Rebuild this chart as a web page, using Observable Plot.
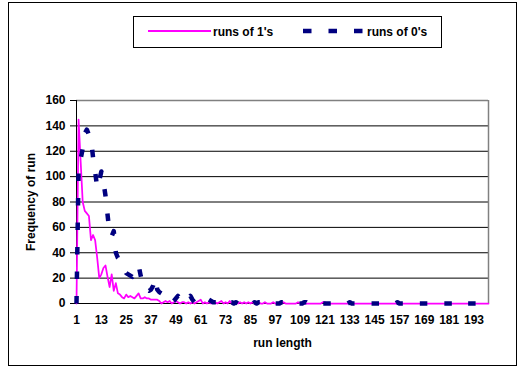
<!DOCTYPE html>
<html>
<head>
<meta charset="utf-8">
<script src="https://cdn.jsdelivr.net/npm/d3@7"></script>
<script src="https://cdn.jsdelivr.net/npm/@observablehq/plot@0.6"></script>
<style>
  html, body { margin: 0; padding: 0; background: white; }
  #chart { width: 518px; height: 367px; }
  #chart svg text { font-weight: bold; font-family: 'Liberation Sans', Arial, sans-serif; }
</style>
</head>
<body>
<div id="chart"></div>
<script>
// Run lengths 1..200 (category axis)
const runLength = d3.range(1, 201);

// Frequency of runs of 1's
const runsOf1 = [
  0,145,112,80,73,71,69,50,54,50,
  36,20,23,28,30,21,13,23,10,16,
  8,7,5,4,7,5,6,5,4,6,
  8,4,4,5,4,4,3,3,3,3,
  2,0,1,2,1,2,0,1,2,1,
  0,1,1,0,1,0,1,0,1,2,
  3,0,1,0,1,0,1,1,0,1,
  2,0,1,0,2,0,0,1,0,1,
  0,1,0,1,0,1,0,0,1,0,
  0,1,0,0,0,1,0,0,0,0,
  1,0,0,0,0,0,0,1,0,0,
  0,0,0,0,0,0,0,0,0,1,
  1,0,0,0,0,0,0,0,0,0,
  0,0,0,0,0,0,0,0,0,0,
  0,0,0,0,0,0,0,0,0,0,
  0,0,0,0,0,0,0,0,0,0,
  0,0,0,0,0,0,0,0,0,0,
  0,0,0,0,0,0,0,0,0,0,
  0,0,0,0,0,0,0,0,0,0,
  0,0,0,0,0,0,0,0,0,0
];

// Frequency of runs of 0's
const runsOf0 = [
  0,105,114,122,134,137,133,130,115,104,
  91,97,104,96,85,70,55,53,57,40,
  36,34,31,28,24,23,22,21,24,27,
  30,22,15,12,11,10,11,14,20,11,
  9,8,8,7,5,2,1,2,4,6,
  3,2,1,2,4,6,3,1,0,1,
  1,2,3,4,3,2,1,1,1,2,
  2,3,2,2,1,1,0,1,0,1,
  1,1,2,1,1,0,1,0,1,1,
  2,2,1,1,0,0,0,0,0,1,
  1,1,0,0,0,0,0,0,0,0,
  1,1,0,0,0,0,0,0,0,0,
  0,0,0,0,0,0,0,0,0,0,
  0,0,1,0,0,0,0,0,0,0,
  0,0,0,0,0,0,0,0,0,0,
  0,0,0,0,0,1,0,0,0,0,
  0,0,0,0,0,0,0,0,0,0,
  0,0,0,0,0,0,0,0,0,0,
  0,0,0,0,1,0,0,0,0,0,
  0,0,0,0,0,0,0,0,0,0
];

const xTicks = [1,13,25,37,49,61,73,85,97,109,121,133,145,157,169,181,193];
const yTicks = [0,20,40,60,80,100,120,140,160];
const seriesNames = ["runs of 1's", "runs of 0's"];
const seriesColors = ["#ff00ff", "#000080"];

const data1 = runLength.map((x, i) => ({x, y: runsOf1[i]}));
const data0 = runLength.map((x, i) => ({x, y: runsOf0[i]}));

const dash0 = "7.5,17";

const chart = Plot.plot({
  width: 518,
  height: 367,
  marginLeft: 76,
  marginRight: 30,
  marginTop: 100,
  marginBottom: 64,
  x: {domain: [1, 200]},
  y: {domain: [0, 160]},
  style: {fontFamily: "'Liberation Sans', Arial, sans-serif", fontSize: "12px", background: "white", color: "black", overflow: "visible"},
  marks: [
    Plot.gridY(yTicks.filter(v => v > 0 && v < 160), {stroke: "black", strokeOpacity: 1, strokeWidth: 1}),
    Plot.ruleY([160], {stroke: "#808080", strokeWidth: 1.5}),
    Plot.ruleX([200], {stroke: "#808080", strokeWidth: 1.5}),
    Plot.axisY(yTicks, {tickSize: 6, tickPadding: 5, label: "Frequency of run", labelAnchor: "center", labelArrow: "none", labelOffset: 50}),
    Plot.axisX(xTicks, {tickSize: 0, tickPadding: 12, label: "run length", labelAnchor: "center", labelArrow: "none", labelOffset: 43}),
    Plot.ruleX([1], {stroke: "black", strokeWidth: 1}),
    Plot.ruleY([0], {stroke: "black", strokeWidth: 1}),
    Plot.line(data1, {x: "x", y: "y", stroke: seriesColors[0], strokeWidth: 1.75}),
    Plot.line(data0, {x: "x", y: "y", stroke: seriesColors[1], strokeWidth: 4.5, strokeDasharray: dash0, strokeLinecap: "butt"})
  ]
});

const svg = d3.select(chart);
// outer chart frame
svg.append("rect").attr("x", 8.5).attr("y", 2.5).attr("width", 508).attr("height", 363)
  .attr("fill", "none").attr("stroke", "black").attr("stroke-width", 1);
// legend
const lg = svg.append("g").attr("text-anchor", "start");
lg.append("rect").attr("x", 133.5).attr("y", 16.5).attr("width", 308).attr("height", 31)
  .attr("fill", "white").attr("stroke", "black").attr("stroke-width", 1);
lg.append("line").attr("x1", 148).attr("x2", 211).attr("y1", 31).attr("y2", 31)
  .attr("stroke", seriesColors[0]).attr("stroke-width", 2);
lg.append("text").attr("x", 213).attr("y", 35.5).attr("text-anchor", "start").text(seriesNames[0])
  .attr("font-size", 12);
lg.append("line").attr("x1", 303).attr("x2", 364).attr("y1", 31).attr("y2", 31)
  .attr("stroke", seriesColors[1]).attr("stroke-width", 4.5).attr("stroke-dasharray", "8.5,17");
lg.append("text").attr("x", 367).attr("y", 35.5).attr("text-anchor", "start").text(seriesNames[1])
  .attr("font-size", 12);

document.getElementById("chart").appendChild(chart);
</script>
</body>
</html>
